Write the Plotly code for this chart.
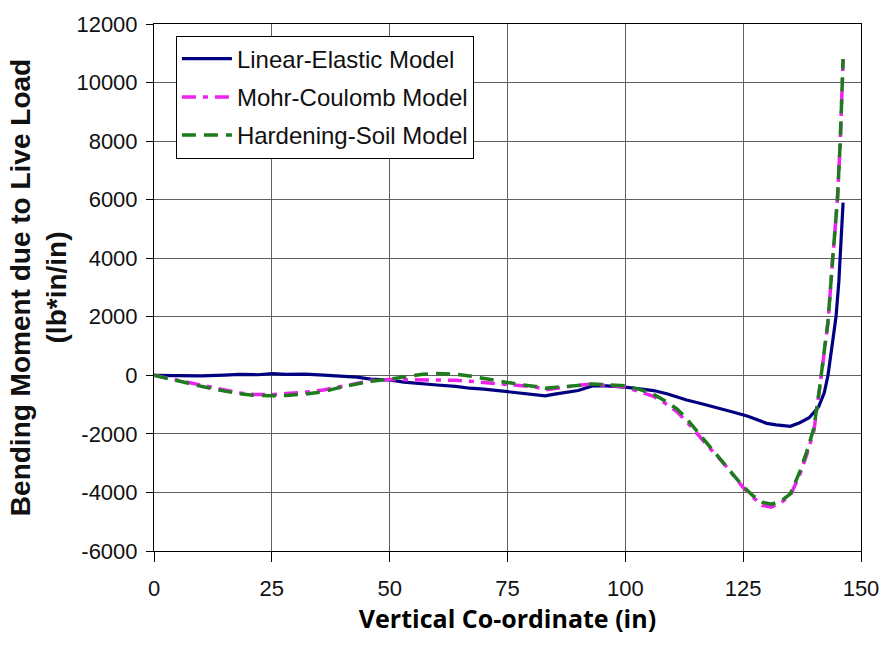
import plotly.graph_objects as go

# Vertical co-ordinate (in) and bending moment (lb*in/in) for each soil model
le_x = [0, 5, 10, 15, 18, 22, 25, 28, 32, 36, 39, 43, 46, 50, 53, 56, 60, 64, 67, 70,
        74, 78, 81, 83, 85, 88, 90, 93, 96, 100, 103, 106, 109, 113, 116, 119, 123, 126,
        128, 130, 132, 135, 137, 139, 141, 142.2, 143, 144, 144.7, 145.3, 145.6, 146, 146.2]
le_y = [0, 0, -20, 10, 30, 20, 60, 30, 40, 10, -20, -60, -130, -160, -230, -280, -330,
        -380, -440, -470, -540, -620, -660, -700, -640, -560, -520, -360, -360, -400,
        -470, -520, -640, -840, -960, -1080, -1260, -1400, -1530, -1640, -1690, -1740,
        -1620, -1450, -1080, -600, 0, 1200, 2000, 3200, 4000, 5200, 5900]

mc_x = [0, 3, 6, 9, 12, 15, 18, 21, 25, 28, 32, 36, 39, 43, 46, 50, 54, 57, 60, 64, 67,
        70, 73, 77, 81, 83, 86, 90, 93, 96, 100, 103, 106, 108, 111, 113, 116, 118, 121,
        123, 125, 127, 129, 131, 133, 135, 137, 138.5, 140, 141.2, 142.2, 143, 144, 145,
        145.6, 146, 146.2]
mc_y = [0, -100, -200, -320, -420, -520, -600, -650, -660, -620, -580, -500, -400, -280,
        -180, -140, -150, -150, -140, -170, -200, -240, -290, -350, -400, -500, -420,
        -340, -300, -340, -400, -560, -720, -900, -1250, -1580, -2150, -2500, -3030,
        -3450, -3830, -4150, -4440, -4500, -4350, -4100, -3400, -2700, -1900, -470, 770,
        1800, 4000, 6000, 8000, 9800, 10800]

hs_x = mc_x
hs_y = [0, -100, -220, -340, -450, -540, -620, -680, -700, -690, -640, -560, -430, -300,
        -200, -130, -20, 40, 60, 40, -20, -100, -200, -300, -380, -440, -400, -340, -300,
        -320, -360, -480, -650, -830, -1150, -1480, -2050, -2450, -3000, -3400, -3800,
        -4100, -4330, -4400, -4300, -4050, -3300, -2600, -1800, -450, 800, 1850, 4000,
        6000, 8000, 10000, 10800]

x_ticks = [0, 25, 50, 75, 100, 125, 150]
y_ticks = [-6000, -4000, -2000, 0, 2000, 4000, 6000, 8000, 10000, 12000]
y_tick_text = ["-6000", "-4000", "-2000", "0", "2000", "4000", "6000", "8000",
               "10000", "12000"]

fig = go.Figure()
fig.add_trace(go.Scatter(x=le_x, y=le_y, mode="lines", name="Linear-Elastic Model",
                         legendgroup="le",
                         line=dict(color="#000080", width=3.2)))
fig.add_trace(go.Scatter(x=mc_x, y=mc_y, mode="lines", name="Mohr-Coulomb Model",
                         legendgroup="mc",
                         line=dict(color="#EE22EE", width=3.5, dash="14px,7px,5px,7px")))
fig.add_trace(go.Scatter(x=hs_x, y=hs_y, mode="lines", name="Hardening-Soil Model",
                         legendgroup="hs",
                         line=dict(color="#1E7B1E", width=3.5, dash="14px,8px")))

axis_common = dict(showline=True, linecolor="black", linewidth=1, mirror=True,
                   showgrid=True, gridcolor="#606060", gridwidth=1, zeroline=False,
                   ticks="outside", tickcolor="black",
                   tickfont=dict(family="Liberation Sans, Arial", size=22, color="#111"))

fig.update_layout(
    width=891, height=646,
    paper_bgcolor="white", plot_bgcolor="white",
    margin=dict(l=154, r=24, t=16, b=95),
    xaxis=dict(range=[0, 150], tickvals=x_ticks, ticklen=10, ticklabelstandoff=8,
               **axis_common,
               title=dict(text="<b>Vertical Co-ordinate (in)</b>",
                          font=dict(family="Open Sans", size=25, color="black"),
                          standoff=4)),
    yaxis=dict(range=[-6000, 12000], tickvals=y_ticks, ticktext=y_tick_text,
               ticklen=7, ticklabelstandoff=4, **axis_common,
               title=dict(text="<b>Bending Moment due to Live Load<br>(lb*in/in)</b>",
                          font=dict(family="Liberation Sans, Arial", size=28, color="#111"),
                          standoff=1)),
    legend=dict(x=0.031, y=0.978, xanchor="left", yanchor="top",
                bgcolor="white", bordercolor="black", borderwidth=1,
                font=dict(family="Liberation Sans, Arial", size=24, color="#111"),
                itemwidth=50, traceorder="grouped", tracegroupgap=4),
    showlegend=True,
)

fig.write_html("out.html")
